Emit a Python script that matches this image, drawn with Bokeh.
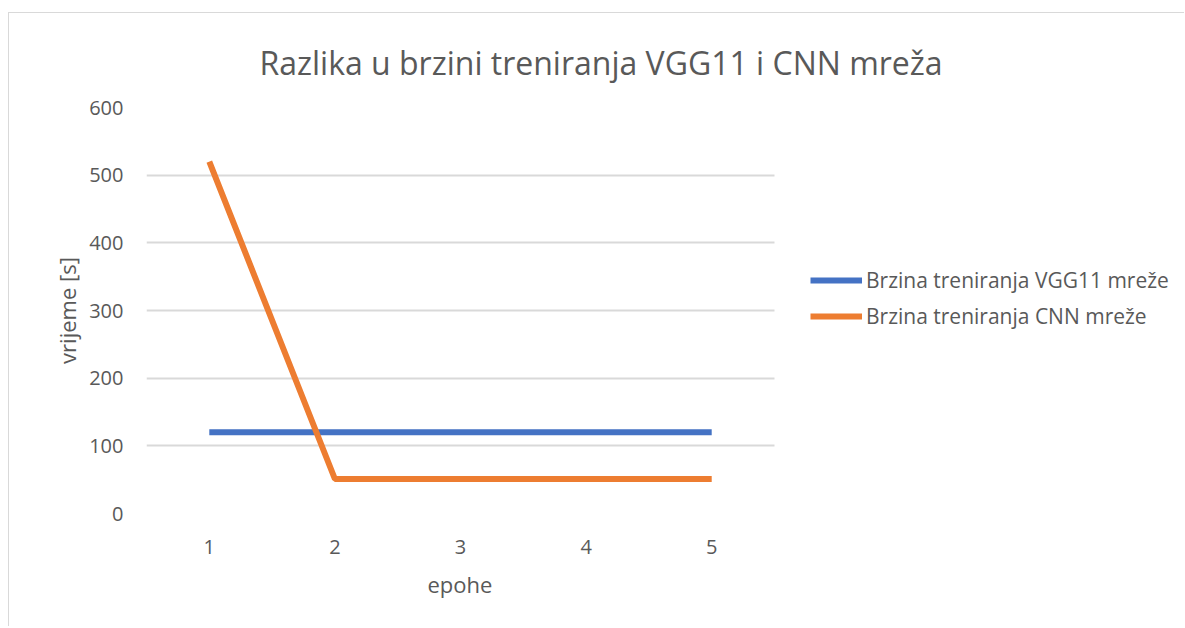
from bokeh.plotting import figure
from bokeh.models import Range1d, FixedTicker, Legend, LegendItem, Title
from bokeh.embed import file_html
from bokeh.resources import INLINE

epohe = [1, 2, 3, 4, 5]
vgg11 = [120, 120, 120, 120, 120]
cnn = [520, 51, 51, 51, 51]
y_ticks = [0, 100, 200, 300, 400, 500, 600]
title_text = "Razlika u brzini treniranja VGG11 i CNN mreža"
x_label = "epohe"
y_label = "vrijeme [s]"
names = ["Brzina treniranja VGG11 mreže", "Brzina treniranja CNN mreže"]

FONT = "Open Sans"
GREY = "#595959"
GRID = "#d9d9d9"

W, H = 1176, 614
LEFT = 137          # canvas x of plot area left
PLOT_W = 628        # width of the category area
FRAME_W = W - LEFT  # frame extends to the right edge (legend lives inside it)
x_lo, x_hi = 0.5, 5.5
x_end = x_lo + (x_hi - x_lo) * FRAME_W / PLOT_W

p = figure(width=W, height=H, output_backend="svg", toolbar_location=None,
           x_range=Range1d(x_lo, x_end), y_range=Range1d(y_ticks[0], y_ticks[-1]),
           min_border_left=LEFT, min_border_right=0, min_border_top=94,
           min_border_bottom=H - 500)
p.styles = {"margin-top": "12px", "margin-left": "8px",
            "border-top": "1px solid #d9d9d9", "border-left": "1px solid #d9d9d9"}
p.outline_line_color = None
p.background_fill_color = "white"
p.border_fill_color = "white"

p.xaxis.ticker = FixedTicker(ticks=epohe)
p.yaxis.ticker = FixedTicker(ticks=y_ticks)
for ax in (p.xaxis[0], p.yaxis[0]):
    ax.axis_line_color = None
    ax.major_tick_line_color = None
    ax.minor_tick_line_color = None
    ax.major_label_text_font = FONT
    ax.major_label_text_font_size = "20px"
    ax.major_label_text_color = GREY
    ax.axis_label_text_font = FONT
    ax.axis_label_text_font_size = "22px"
    ax.axis_label_text_color = GREY
    ax.axis_label_text_font_style = "normal"
p.yaxis.axis_label = y_label
p.xaxis.major_label_standoff = 20
p.yaxis.major_label_standoff = 17
p.yaxis.axis_label_standoff = 4

# horizontal grid limited to the category area
p.xgrid.grid_line_color = None
yg = p.ygrid[0]
if "cross_bounds" in yg.properties():
    yg.cross_bounds = (x_lo, x_hi)
    yg.grid_line_color = GRID
    yg.grid_line_width = 2
else:
    yg.grid_line_color = None
    p.segment(x0=[x_lo] * len(y_ticks), x1=[x_hi] * len(y_ticks), y0=y_ticks, y1=y_ticks,
              line_color=GRID, line_width=2, level="underlay")

r1 = p.line(epohe, vgg11, line_color="#4472C4", line_width=6)
r2 = p.line(epohe, cnn, line_color="#ED7D31", line_width=6)

legend = Legend(items=[LegendItem(label=names[0], renderers=[r1]),
                       LegendItem(label=names[1], renderers=[r2])],
                location=(664, 183), orientation="vertical",
                glyph_width=52, glyph_height=20, label_height=20, label_standoff=4,
                spacing=8, padding=0, margin=0,
                border_line_color=None, background_fill_alpha=0,
                label_text_font=FONT, label_text_font_size="21px", label_text_color=GREY)
p.add_layout(legend, "center")

title = Title(text=title_text, align="left", offset=113, standoff=46,
              vertical_align="middle",
              text_font=FONT, text_font_size="32px", text_color=GREY,
              text_font_style="normal")
p.add_layout(title, "above")

xlab = Title(text=x_label, align="left", offset=281, standoff=24,
             vertical_align="top",
             text_font=FONT, text_font_size="22px", text_color=GREY,
             text_font_style="normal")
p.add_layout(xlab, "below")

open("out.html", "w").write(file_html(p, INLINE))
